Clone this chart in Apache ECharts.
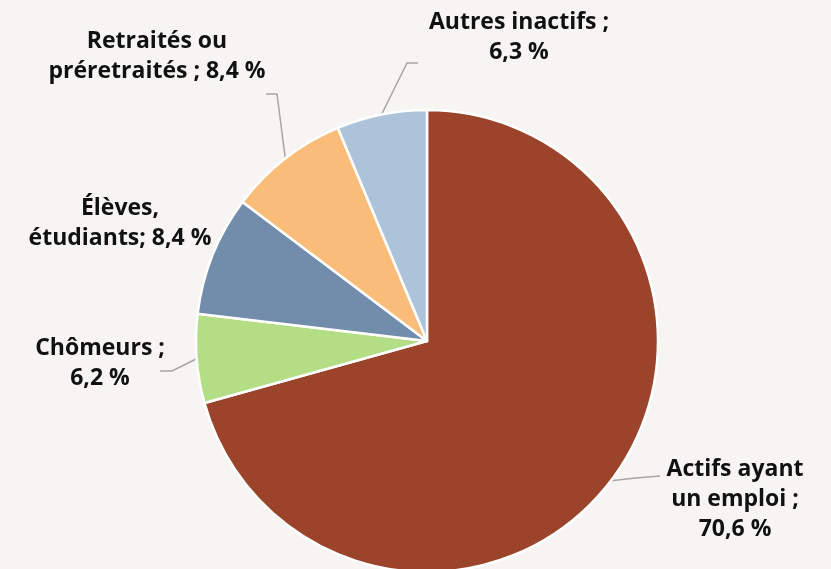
<!DOCTYPE html>
<html lang="fr">
<head>
<meta charset="utf-8">
<title>Répartition de la population</title>
<script src="https://cdn.jsdelivr.net/npm/echarts@6/dist/echarts.min.js"></script>
<style>
  html, body { margin: 0; padding: 0; background: #f6f5f3; }
  #chart { width: 831px; height: 569px; }
</style>
</head>
<body>
<div id="chart"></div>
<script>
// Categories, in clockwise order from twelve o'clock
const categories = [
  'Actifs ayant\nun emploi ;\n70,6 %',
  'Chômeurs ;\n6,2 %',
  'Élèves,\nétudiants; 8,4 %',
  'Retraités ou\npréretraités ; 8,4 %',
  'Autres inactifs ;\n6,3 %'
];
// Shares in percent
const values = [70.6, 6.2, 8.4, 8.4, 6.3];
const colors = ['#9b442b', '#b4de85', '#718dab', '#fabd79', '#adc3d9'];

// Label placement (block centre) and leader-line elbows for each slice
const labelSpots = [
  { x: 735, y: 499, line: [[636, 478], [660, 476]] },
  { x: 100, y: 363, line: [[172, 371], [160, 371]] },
  { x: 120, y: 223, line: null },
  { x: 157, y: 56,  line: [[277, 94], [266, 94]] },
  { x: 519, y: 37,  line: [[407, 63], [418, 63]] }
];

const chart = echarts.init(document.getElementById('chart'));
chart.setOption({
  backgroundColor: '#f6f5f3',
  animation: false,
  series: [{
    type: 'pie',
    center: [427, 341],
    radius: 231,
    startAngle: 90,
    clockwise: true,
    data: categories.map((name, i) => ({
      name,
      value: values[i],
      itemStyle: { color: colors[i] },
      labelLine: { show: labelSpots[i].line !== null }
    })),
    itemStyle: { borderColor: '#ffffff', borderWidth: 2.5 },
    label: {
      show: true,
      formatter: '{b}',
      color: '#111111',
      fontFamily: 'Open Sans',
      fontWeight: 'bold',
      fontSize: 23,
      lineHeight: 30,
      align: 'center',
      overflow: 'none'
    },
    labelLine: {
      show: true,
      length: 20,
      length2: 10,
      lineStyle: { color: '#a6a6a6', width: 1.5 }
    },
    labelLayout: function (params) {
      const spot = labelSpots[params.dataIndex];
      const out = { x: spot.x, y: spot.y, align: 'center', verticalAlign: 'middle' };
      if (spot.line && params.labelLinePoints) {
        out.labelLinePoints = [params.labelLinePoints[0], spot.line[0], spot.line[1]];
      }
      return out;
    }
  }]
});
</script>
</body>
</html>
